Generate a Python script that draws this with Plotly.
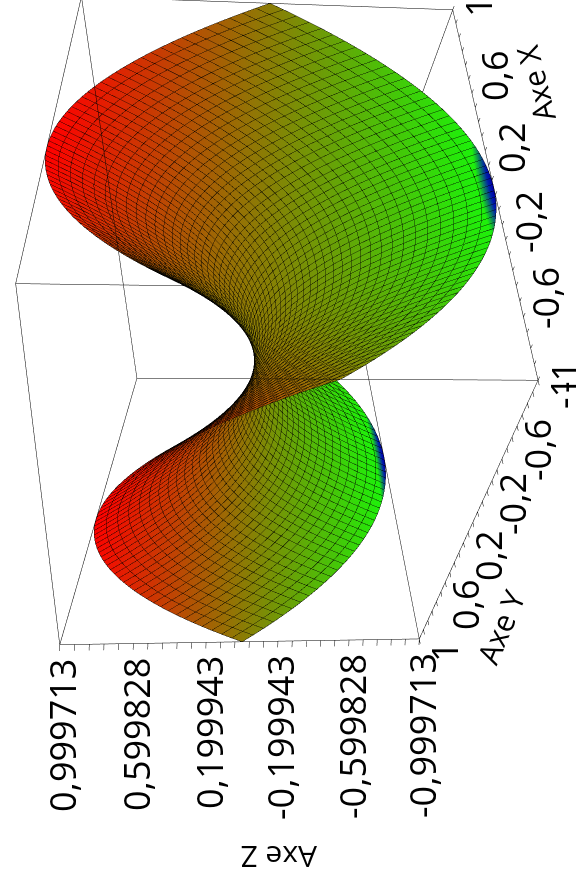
import numpy as np
import plotly.graph_objects as go

half_grid = [.016949,.050847,.084746,.118644,.152542,.186441,.220339,.254237,.288136,.322034,.355932,.389831,.423729,.457627,.491525,.525424,.559322,.593220,.627119,.661017,.694915,.728814,.762712,.796610,.830508,.864407,.898305,.932203,.966102,1.0]
half_rise = [.000287,.002585,.007182,.014076,.023269,.034760,.048549,.064636,.083022,.103706,.126688,.151968,.179546,.209422,.241597,.276070,.312841,.351910,.393278,.436944,.482907,.531169,.581729,.634588,.689744,.747199,.806952,.869003,.933352,1.0]
grid = [-v for v in half_grid[::-1]] + half_grid
rise = half_rise[::-1] + half_rise
height = np.subtract.outer(rise, rise).T

x_major = [-1,-.6,-.2,.2,.6,1]
x_major_text = ['-1','-0,6','-0,2','0,2','0,6','1']
x_minor = [-.92,-.84,-.76,-.68,-.52,-.44,-.36,-.28,-.12,-.04,.04,.12,.28,.36,.44,.52,.68,.76,.84,.92]
z_major = [.999713,.599828,.199943,-.199943,-.599828,-.999713]
z_major_text = ['0,999713','0,599828','0,199943','-0,199943','-0,599828','-0,999713']
z_minor = [.919736,.839759,.759782,.679805,.519851,.439874,.359897,.279920,.119966,.039989,-.039989,-.119966,-.279920,-.359897,-.439874,-.519851,-.679805,-.759782,-.839759,-.919736]
zmax = .999713

W,H = 2861,2661
asp_xy,asp_z = .4452,.3677
room = 1.25   # the scene extends past the drawn box so the lifted mesh is not clipped
eye = np.array([-1.8279,-2.4368,.7606]); center = np.array([-.0471,.1282,-.0535])
def paper(ix,iy):
    return (W/2+(442-iy))/W, 1-(H/2+(ix-288))/H

fig = go.Figure(go.Surface(x=grid,y=grid,z=height,surfacecolor=height,cmin=-1,cmax=1,showscale=False,hoverinfo='skip',
    colorscale=[[0,'rgb(0,0,170)'],[.008,'rgb(0,30,170)'],[.03,'rgb(30,240,10)'],[1,'rgb(255,0,0)']],
    lighting=dict(ambient=1,diffuse=0,specular=0,fresnel=0,roughness=1)))

# mesh lines: every vertex slides along its own sight line towards the camera,
# which leaves its place in the picture unchanged and keeps it above the opaque surface
scale = np.array([asp_xy/2,asp_xy/2,asp_z/2/zmax])
def lifted(xs,ys,zs,t=.03):
    pts = np.column_stack([xs,ys,zs])*scale
    v = eye-pts
    return (pts+t*v/np.linalg.norm(v,axis=1,keepdims=True))/scale
g = np.array(grid)
lx,ly,lz=[],[],[]
for i,v in enumerate(grid):
    for xs,ys,zs in ((np.full(60,v),g,height[:,i]),(g,np.full(60,v),height[i,:])):
        p = lifted(xs,ys,zs)
        lx+=list(p[:,0])+[None]; ly+=list(p[:,1])+[None]; lz+=list(p[:,2])+[None]
fig.add_trace(go.Scatter3d(x=lx,y=ly,z=lz,mode='lines',line=dict(color='rgba(0,0,0,0.8)',width=1),hoverinfo='skip',showlegend=False))

# the twelve edges of the box, then the tick marks on its three labelled edges
ex,ey,ez=[],[],[]
for a in (-1,1):
    for b in (-1,1):
        ex+=[-1,1,None,a,a,None,a,a,None]
        ey+=[a,a,None,-1,1,None,b,b,None]
        ez+=[b*zmax,b*zmax,None,b*zmax,b*zmax,None,-zmax,zmax,None]
for v in x_major+x_minor:
    ex+=[v,v,None,-1,-1.025,None]
    ey+=[-1,-1.025,None,v,v,None]
    ez+=[-zmax,-zmax,None,-zmax,-zmax,None]
for v in z_major+z_minor:
    ex+=[-1,-1.02,None]; ey+=[1,1.02,None]; ez+=[v,v,None]
fig.add_trace(go.Scatter3d(x=ex,y=ey,z=ez,mode='lines',line=dict(color='black',width=1),hoverinfo='skip',showlegend=False))

ax = dict(showbackground=False,showgrid=False,zeroline=False,showline=False,ticks='',showticklabels=False,showspikes=False,title=dict(text=''))
tickfont = dict(family='Open Sans',size=36,color='black')
titlefont = dict(family='Open Sans',size=30,color='black')
notes=[]
for txt,ix,iy,ang in [('Axe X',535,83,-14),('Axe Y',500,627,23),('Axe Z',279,857,-90)]:
    px,py = paper(ix,iy)
    notes.append(dict(text=txt,x=px,y=py,xref='paper',yref='paper',xanchor='center',yanchor='middle',showarrow=False,textangle=ang,font=titlefont))
labels=[]
for v,t in zip(x_major,x_major_text):
    labels.append(dict(x=v,y=-1,z=-zmax,text=t,showarrow=False,xanchor='center',yanchor='middle',xshift=3,yshift=-26,font=tickfont))
    labels.append(dict(x=-1,y=v,z=-zmax,text=t,showarrow=False,xanchor='center',yanchor='middle',xshift=-13,yshift=-25,font=tickfont))
for v,t in zip(z_major,z_major_text):
    labels.append(dict(x=-1,y=1,z=v,text=t,showarrow=False,xanchor='right',yanchor='middle',xshift=-12,yshift=-3,font=tickfont))
fig.update_layout(width=W,height=H,margin=dict(l=0,r=0,t=0,b=0),paper_bgcolor='white',showlegend=False,annotations=notes,
  scene=dict(aspectmode='manual',aspectratio=dict(x=asp_xy*room,y=asp_xy*room,z=asp_z*room),domain=dict(x=[0,1],y=[0,1]),annotations=labels,
    xaxis=dict(ax,range=[-room,room]),
    yaxis=dict(ax,range=[-room,room]),
    zaxis=dict(ax,range=[-zmax*room,zmax*room]),
    camera=dict(eye=dict(x=eye[0],y=eye[1],z=eye[2]),center=dict(x=center[0],y=center[1],z=center[2]),up=dict(x=0,y=0,z=1),projection=dict(type='perspective'))))
post=f"""
document.body.style.margin='0';document.documentElement.style.overflow='hidden';document.body.style.overflow='hidden';
var g=document.querySelector('.plotly-graph-div');
g.style.position='absolute';g.style.left='{(576-W)/2}px';g.style.top='{(884-H)/2}px';g.style.transform='rotate(-90deg)';
"""
fig.write_html("out.html",post_script=post)
